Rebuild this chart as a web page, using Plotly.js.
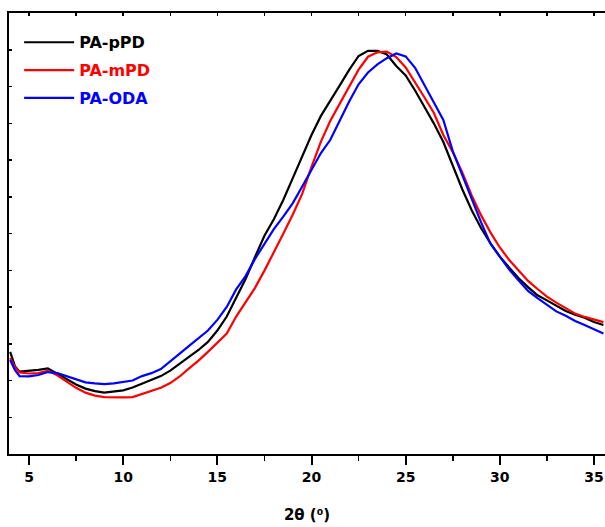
<!DOCTYPE html>
<html>
<head>
<meta charset="utf-8">
<script src="https://cdn.plot.ly/plotly-3.0.1.min.js"></script>
<style>html,body{margin:0;padding:0;background:#fff;}#chart{width:605px;height:527px;}</style>
</head>
<body>
<div id="chart"></div>
<script>
// 2θ (degrees)
const twoTheta = [4.0,4.25,4.5,5,5.5,6,6.5,7,7.5,8,8.5,9,9.5,10,10.5,11,11.5,12,12.5,13,13.5,14,14.5,15,15.5,16,16.5,17,17.5,18,18.5,19,19.5,20,20.5,21,21.5,22,22.5,23,23.5,24,24.5,25,25.5,26,26.5,27,27.5,28,28.5,29,29.5,30,30.5,31,31.5,32,32.5,33,33.5,34,34.5,35,35.5];
// Intensities (a.u.)
const paPPD = [278,239,224,226,229,233,219,203,189,178,171,167,169,173,181,192,201,212,227,245,263,283,305,336,374,424,476,536,594,639,691,750,811,868,920,963,1003,1045,1083,1097,1097,1087,1056,1030,989,944,899,849,785,721,664,615,574,537,507,478,454,432,418,403,389,379,371,359,351];
const paMPD = [261,237,222,219,220,227,214,196,180,167,159,155,154,154,155,163,170,180,193,211,233,254,278,302,328,374,412,452,499,548,599,651,707,781,850,907,952,998,1046,1081,1093,1095,1080,1052,1012,970,928,868,822,767,704,650,603,562,528,498,471,449,428,412,396,382,373,365,359];
const paODA = [256,229,212,211,215,223,220,211,203,195,192,190,192,195,200,212,220,231,253,273,294,316,336,365,400,448,484,531,573,612,646,682,727,774,819,855,907,959,1006,1038,1060,1077,1090,1082,1051,1003,958,909,824,759,694,631,572,536,502,472,444,424,405,388,376,362,351,339,328];
const seriesNames = ['PA-pPD','PA-mPD','PA-ODA'];
const seriesColors = ['#000000','#ff0000','#0000ff'];
const xTickVals = [5,10,15,20,25,30,35];

const ys = [paPPD, paMPD, paODA];
const traces = ys.map((y, i) => ({
  x: twoTheta, y: y, type: 'scatter', mode: 'lines',
  name: '<span style="color:' + seriesColors[i] + '"><b>' + seriesNames[i] + '</b></span>',
  line: {color: seriesColors[i], width: 2.2},
  legendgroup: 'g' + i
}));
traces.push({x: [], y: [], xaxis: 'x2', yaxis: 'y', showlegend: false, hoverinfo: 'skip'});

const xr = [3.938, 35.584];
const layout = {
  width: 605, height: 527,
  margin: {l: 9, r: 0, t: 13, b: 73},
  paper_bgcolor: '#fff', plot_bgcolor: '#fff',
  font: {family: 'DejaVu Sans', size: 15, color: '#000'},
  showlegend: true,
  legend: {x: 0.017, y: 0.972, xanchor: 'left', yanchor: 'top', bgcolor: 'rgba(0,0,0,0)',
           font: {family: 'DejaVu Sans', size: 16}, traceorder: 'grouped', tracegroupgap: 4,
           itemwidth: 50},
  xaxis: {
    range: xr, showgrid: false, zeroline: false,
    showline: true, linecolor: '#000', linewidth: 2,
    ticks: 'outside', ticklen: 9, tickwidth: 2, tickcolor: '#000',
    tickvals: xTickVals, ticktext: xTickVals.map(String),
    tickfont: {family: 'DejaVu Sans', size: 14, color: '#000', weight: 'bold'},
    minor: {dtick: 2.5, tick0: 2.5, ticks: 'outside', ticklen: 5, tickwidth: 1.5, tickcolor: '#000', showgrid: false},
    title: {text: '<b>2θ (⁰)</b>', font: {family: 'DejaVu Sans', size: 15, color: '#000'}, standoff: 26}
  },
  xaxis2: {
    range: xr, overlaying: 'x', side: 'top', anchor: 'y', showgrid: false, zeroline: false,
    showline: true, linecolor: '#000', linewidth: 2,
    ticks: 'inside', ticklen: 3, tickwidth: 1.5, tickcolor: '#000', dtick: 2.5, tick0: 5,
    showticklabels: false
  },
  yaxis: {
    range: [0, 1200], showgrid: false, zeroline: false,
    showline: true, linecolor: '#000', linewidth: 2,
    ticks: 'inside', ticklen: 3, tickwidth: 1.5, tickcolor: '#000', dtick: 100, tick0: 0,
    showticklabels: false
  }
};
Plotly.newPlot('chart', traces, layout, {displayModeBar: false, staticPlot: true});
</script>
</body>
</html>
